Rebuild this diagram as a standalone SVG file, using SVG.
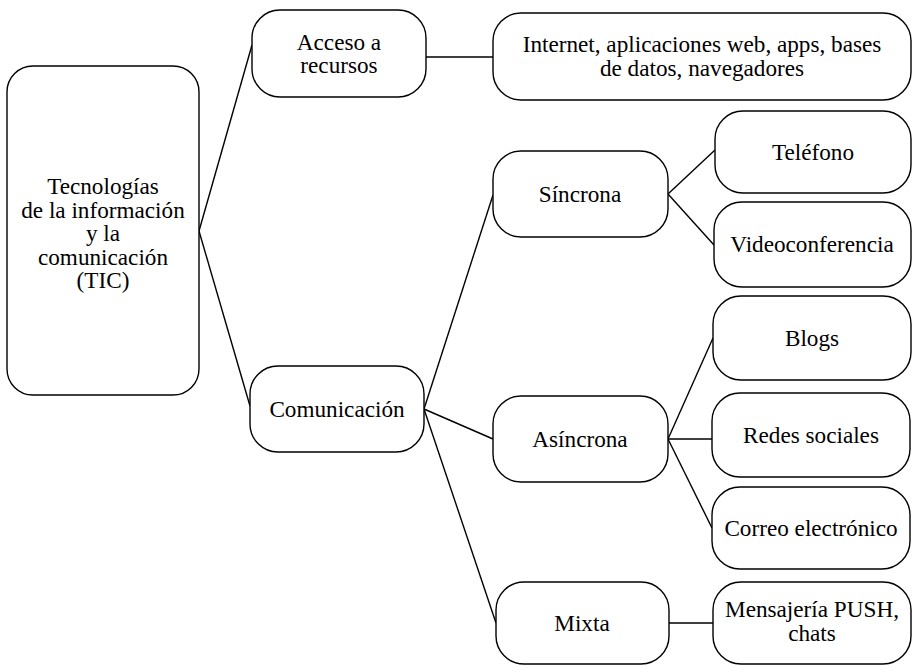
<svg xmlns="http://www.w3.org/2000/svg" width="913" height="665" viewBox="0 0 913 665">
<style>
.box{fill:#fff;stroke:#000;stroke-width:1.4}
.t{font-family:"Liberation Serif","Times New Roman",serif;font-size:23.2px;fill:#000;text-anchor:middle}
.c line{stroke:#000;stroke-width:1.4}
</style>
<rect width="913" height="665" fill="#fff"/>
<g class="c" id="connectors">
<line x1="199" y1="231" x2="252" y2="45"/>
<line x1="199" y1="231" x2="250" y2="406"/>
<line x1="426" y1="57" x2="493" y2="57"/>
<line x1="424" y1="409" x2="493" y2="195"/>
<line x1="424" y1="409" x2="493" y2="439"/>
<line x1="424" y1="409" x2="496" y2="623"/>
<line x1="668" y1="194" x2="715" y2="150"/>
<line x1="668" y1="194" x2="714" y2="245"/>
<line x1="668" y1="439" x2="713" y2="338"/>
<line x1="668" y1="439" x2="712" y2="439"/>
<line x1="668" y1="439" x2="712" y2="528"/>
<line x1="669" y1="623" x2="713" y2="623"/>
</g>
<g id="root"><rect class="box" x="7" y="66" width="192" height="329" rx="26"/>
<text class="t" x="103" y="194">Tecnologías</text>
<text class="t" x="103" y="217.5">de la información</text>
<text class="t" x="103" y="241">y la</text>
<text class="t" x="103" y="264.5">comunicación</text>
<text class="t" x="103" y="288">(TIC)</text></g>
<g id="acceso"><rect class="box" x="252" y="10" width="174" height="87" rx="28"/>
<text class="t" x="339" y="49.5">Acceso a</text><text class="t" x="339" y="73">recursos</text></g>
<g id="internet"><rect class="box" x="493" y="13" width="418" height="87" rx="28"/>
<text class="t" x="702" y="52">Internet, aplicaciones web, apps, bases</text><text class="t" x="702" y="76">de datos, navegadores</text></g>
<g id="comunicacion"><rect class="box" x="250" y="366" width="174" height="86" rx="28"/>
<text class="t" x="337" y="417">Comunicación</text></g>
<g id="sincrona"><rect class="box" x="493" y="151" width="175" height="86" rx="28"/>
<text class="t" x="580" y="202">Síncrona</text></g>
<g id="asincrona"><rect class="box" x="493" y="396" width="175" height="86" rx="28"/>
<text class="t" x="580" y="447">Asíncrona</text></g>
<g id="mixta"><rect class="box" x="496" y="582" width="173" height="82" rx="28"/>
<text class="t" x="582" y="631">Mixta</text></g>
<g id="telefono"><rect class="box" x="715" y="111" width="196" height="82" rx="28"/>
<text class="t" x="813" y="160">Teléfono</text></g>
<g id="videoconferencia"><rect class="box" x="714" y="202" width="197" height="85" rx="28"/>
<text class="t" x="812" y="252">Videoconferencia</text></g>
<g id="blogs"><rect class="box" x="713" y="296" width="198" height="84" rx="28"/>
<text class="t" x="812" y="346">Blogs</text></g>
<g id="redes"><rect class="box" x="712" y="393" width="198" height="84" rx="28"/>
<text class="t" x="811" y="443">Redes sociales</text></g>
<g id="correo"><rect class="box" x="712" y="487" width="198" height="82" rx="28"/>
<text class="t" x="811" y="536">Correo electrónico</text></g>
<g id="mensajeria"><rect class="box" x="713" y="582" width="198" height="82" rx="28"/>
<text class="t" x="812" y="617">Mensajería PUSH,</text><text class="t" x="812" y="641">chats</text></g>
</svg>
